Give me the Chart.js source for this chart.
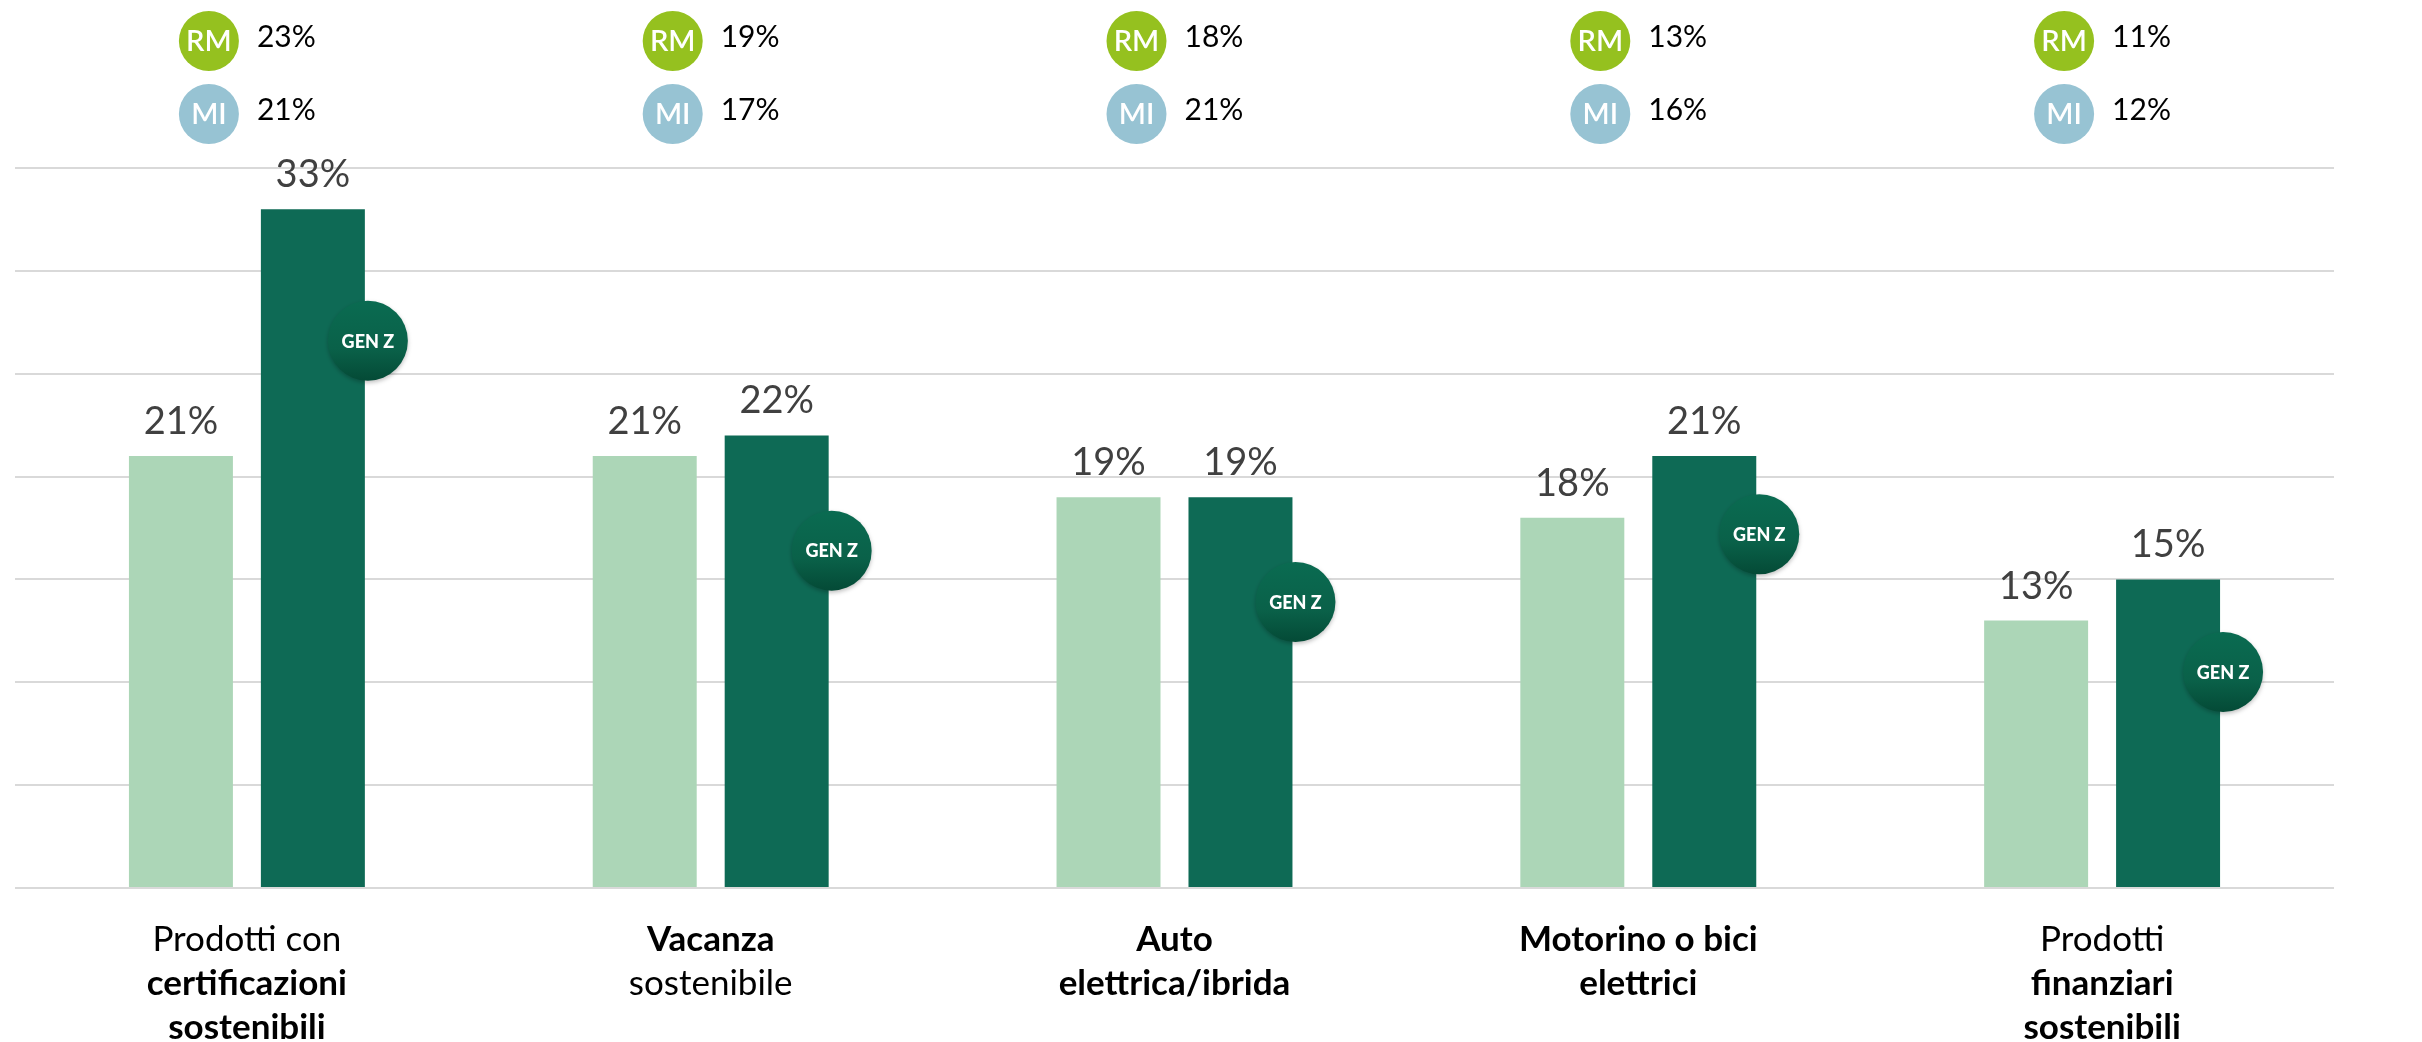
<!DOCTYPE html>
<html>
<head>
<meta charset="utf-8">
<script src="https://cdn.jsdelivr.net/npm/chart.js@4.4.1/dist/chart.umd.min.js"></script>
<style>
  body { margin: 0; background: #fff; }
  #wrap { width: 2422px; height: 1042px; }
</style>
</head>
<body>
<div id="wrap"><canvas id="sustainChart" width="2422" height="1042"></canvas></div>
<script>
// categories, each line with a bold flag
const categories = [
    [['Prodotti con', false], ['certificazioni', true], ['sostenibili', true]],
    [['Vacanza', true], ['sostenibile', false]],
    [['Auto', true], ['elettrica/ibrida', true]],
    [['Motorino o bici', true], ['elettrici', true]],
    [['Prodotti', false], ['finanziari', true], ['sostenibili', true]]
];
const totale = [21, 21, 19, 18, 13];
const genZ = [33, 22, 19, 21, 15];
const roma = [23, 19, 18, 13, 11];
const milano = [21, 17, 21, 16, 12];

// where the GEN Z badge sits on each dark bar (in % units of the y scale)
const genZBadgeAt = [26.6, 16.4, 13.9, 17.2, 10.5];

const FONT = 'Lato, "Open Sans", sans-serif';

const overlay = {
    id: 'overlay',
    afterDatasetsDraw(chart) {
        const ctx = chart.ctx;
        const x = chart.scales.x, y = chart.scales.y;
        const light = chart.getDatasetMeta(0).data;
        const dark = chart.getDatasetMeta(1).data;
        ctx.save();

        // value labels above bars
        ctx.fillStyle = '#404040';
        ctx.font = '38px ' + FONT;
        ctx.textAlign = 'center';
        ctx.textBaseline = 'alphabetic';
        [light, dark].forEach((bars, d) => {
            const vals = d === 0 ? totale : genZ;
            bars.forEach((b, i) => ctx.fillText(vals[i] + '%', b.x, b.y - 22));
        });

        // GEN Z badges
        dark.forEach((b, i) => {
            const cx = b.x + b.width / 2 + 3;
            const cy = y.getPixelForValue(genZBadgeAt[i]);
            const r = 40;
            ctx.save();
            ctx.shadowColor = 'rgba(0,0,0,0.25)';
            ctx.shadowBlur = 4;
            ctx.shadowOffsetY = 2;
            const g = ctx.createLinearGradient(0, cy - r, 0, cy + r);
            g.addColorStop(0, '#0a6b51');
            g.addColorStop(0.6, '#0a6149');
            g.addColorStop(1, '#044a36');
            ctx.fillStyle = g;
            ctx.beginPath();
            ctx.arc(cx, cy, r, 0, Math.PI * 2);
            ctx.fill();
            ctx.restore();
            ctx.fillStyle = '#ffffff';
            ctx.font = '900 18px ' + FONT;
            ctx.textBaseline = 'middle';
            ctx.fillText('GEN Z', cx, cy + 1);
        });

        // RM / MI city markers on top
        categories.forEach((c, i) => {
            const cx = x.getPixelForValue(i) - 38;
            [['RM', '#95c11f', roma[i], 41], ['MI', '#97c3d3', milano[i], 114]].forEach(([tag, col, v, cy]) => {
                ctx.fillStyle = col;
                ctx.beginPath();
                ctx.arc(cx, cy, 30, 0, Math.PI * 2);
                ctx.fill();
                ctx.fillStyle = '#ffffff';
                ctx.font = '600 29px ' + FONT;
                ctx.textAlign = 'center';
                ctx.textBaseline = 'middle';
                ctx.fillText(tag, cx, cy + 1);
                ctx.fillStyle = '#000000';
                ctx.font = '30px ' + FONT;
                ctx.textAlign = 'left';
                ctx.textBaseline = 'alphabetic';
                ctx.fillText(v + '%', cx + 48, cy + 6);
            });
        });

        // category labels, mixed weights
        ctx.fillStyle = '#000000';
        ctx.textAlign = 'center';
        ctx.textBaseline = 'alphabetic';
        categories.forEach((lines, i) => {
            const cx = x.getPixelForValue(i);
            lines.forEach(([txt, bold], k) => {
                ctx.font = (bold ? 'bold ' : '') + '35px ' + FONT;
                ctx.fillText(txt, cx, 951 + k * 44);
            });
        });
        ctx.restore();
    }
};

const ctx = document.getElementById('sustainChart').getContext('2d');
const sustainChart = new Chart(ctx, {
    type: 'bar',
    data: {
        labels: categories.map(c => c.map(l => l[0]).join(' ')),
        datasets: [{
            label: 'Totale',
            data: totale,
            backgroundColor: '#acd6b7',
            categoryPercentage: 0.569,
            barPercentage: 0.788
        }, {
            label: 'GEN Z',
            data: genZ,
            backgroundColor: '#0e6a55',
            categoryPercentage: 0.569,
            barPercentage: 0.788
        }]
    },
    options: {
        responsive: false,
        animation: false,
        layout: { padding: { top: 168, bottom: 154, left: 15, right: 88 } },
        plugins: {
            legend: { display: false },
            tooltip: { enabled: false }
        },
        scales: {
            x: {
                grid: { display: false, drawTicks: false },
                border: { display: false },
                ticks: { display: false }
            },
            y: {
                min: 0,
                max: 35,
                ticks: { display: false, stepSize: 5 },
                grid: { color: '#d9d9d9', lineWidth: 2, drawTicks: false },
                border: { display: false }
            }
        }
    },
    plugins: [overlay]
});
</script>
</body>
</html>
